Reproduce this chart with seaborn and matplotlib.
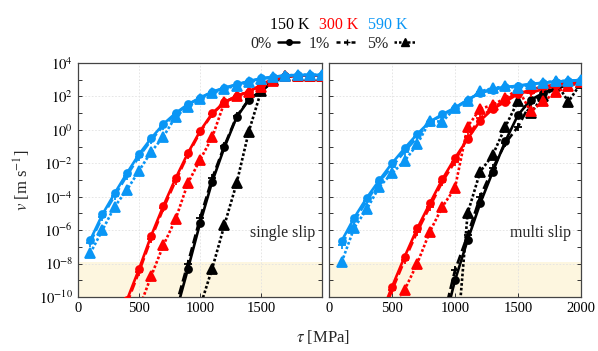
import numpy as np
import pandas as pd
import seaborn as sns
import matplotlib.pyplot as plt
from matplotlib.lines import Line2D
from matplotlib.ticker import NullFormatter

# log10 of slip velocity v [m/s]
tau_all = [100, 200, 300, 400, 500, 600, 700, 800, 900, 1000,
           1100, 1200, 1300, 1400, 1500, 1600, 1700, 1800, 1900, 2000]

# --- single slip ---
single_590_0 = [-6.6, -5.06, -3.8, -2.6, -1.46, -0.5, 0.35, 1.0, 1.53, 1.92,
                2.28, 2.52, 2.72, 2.92, 3.08, 3.18, 3.25, 3.28, 3.28, 3.28]
single_590_1 = [-6.75, -5.2, -3.95, -2.75, -1.6, -0.62, 0.25, 0.95, 1.5, 1.9,
                2.26, 2.5, 2.7, 2.9, 3.06, 3.17, 3.25, 3.28, 3.28, 3.28]
single_590_5 = [-7.39, -6.0, -4.6, -3.6, -2.45, -1.31, -0.41, 0.79, 1.38, 1.85,
                2.2, 2.45, 2.65, 2.85, 3.02, 3.15, 3.25, 3.3, 3.3, 3.3]

tau_red = tau_all[3:]
single_300_0 = [-10.2, -8.33, -6.33, -4.54, -2.9, -1.4, -0.08, 0.99, 1.65, 2.04,
                2.28, 2.7, 3.05, 3.2, 3.25, 3.25, 3.25]
single_300_1 = [-10.4, -8.5, -6.5, -4.7, -3.05, -1.5, -0.15, 0.95, 1.63, 2.03,
                2.28, 2.68, 3.03, 3.2, 3.25, 3.25, 3.25]
single_300_5 = [-12.5, -10.7, -8.75, -6.9, -5.35, -3.2, -1.8, -0.45, 1.65, 2.02,
                2.28, 2.55, 2.95, 3.2, 3.25, 3.25, 3.25]

tau_black = tau_all[7:]
single_150_0 = [-11.0, -8.35, -5.6, -3.1, -1.05, 0.75, 1.8, 2.3, 2.9, 3.2, 3.25, 3.25, 3.25]
single_150_1 = [-10.6, -8.0, -5.3, -2.9, -0.95, 0.8, 1.82, 2.32, 2.9, 3.2, 3.25, 3.25, 3.25]
single_150_5 = [-15.0, -13.0, -10.6, -8.3, -5.7, -3.2, -0.1, 2.3, 3.0, 3.2, 3.25, 3.25, 3.25]

# --- multi slip ---
multi_590_0 = [-6.65, -5.26, -4.06, -3.0, -2.0, -1.1, -0.25, 0.49, 0.93, 1.33,
               1.8, 2.2, 2.4, 2.55, 2.65, 2.75, 2.82, 2.88, 2.93, 2.98]
multi_590_1 = [-6.9, -5.45, -4.25, -3.1, -2.2, -1.3, -0.45, 0.5, 0.85, 1.32,
               1.78, 2.25, 2.45, 2.58, 2.6, 2.74, 2.81, 2.9, 2.92, 2.99]
multi_590_5 = [-7.93, -5.86, -4.74, -3.4, -2.6, -1.86, -0.87, 0.53, 0.49, 1.3,
               1.75, 2.3, 2.5, 2.6, 2.5, 2.72, 2.8, 2.95, 2.92, 3.0]

multi_300_0 = [-11.3, -9.39, -7.59, -5.9, -4.4, -2.95, -1.68, -0.55, 0.55, 1.25,
               1.68, 2.15, 2.4, 2.6, 2.7, 2.85, 2.95]
multi_300_1 = [-11.6, -9.6, -7.8, -6.1, -4.6, -3.1, -1.9, -0.4, 0.7, 1.35,
               1.75, 2.3, 2.2, 2.45, 2.6, 2.75, 2.9]
multi_300_5 = [-13.0, -11.3, -9.58, -8.0, -6.1, -4.6, -3.47, 0.2, 1.25, 1.5,
               1.9, 2.45, 1.1, 1.7, 2.25, 2.6, 2.85]

multi_150_0 = [-14.0, -12.0, -9.0, -6.6, -4.4, -2.5, -0.67, 0.89, 1.79, 2.2, 2.5, 2.75, 2.9]
multi_150_1 = [-13.5, -11.5, -8.4, -6.3, -4.0, -2.3, -0.8, 0.19, 1.6, 2.1, 2.45, 2.7, 2.85]
multi_150_5 = [-16.0, -15.0, -14.0, -5.0, -2.5, -1.5, 0.19, 1.73, 1.0, 2.0, 2.85, 1.68, 2.8]

colors = {'150 K': 'black', '300 K': '#ff0000', '590 K': '#0a96f5'}
styles = {
    '0%': dict(marker='o', dashes=(None, None), ms=5),
    '1%': dict(marker='+', dashes=(3.5, 1.5), ms=5.5),
    '5%': dict(marker='^', dashes=(1.0, 0.8), ms=6.5),
}
legend_dashes = {'0%': (None, None), '1%': (1.6, 1.4), '5%': (1.0, 0.8)}

panels = {
    'single slip': [
        ('150 K', tau_black, [single_150_0, single_150_1, single_150_5]),
        ('300 K', tau_red, [single_300_0, single_300_1, single_300_5]),
        ('590 K', tau_all, [single_590_0, single_590_1, single_590_5]),
    ],
    'multi slip': [
        ('150 K', tau_black, [multi_150_0, multi_150_1, multi_150_5]),
        ('300 K', tau_red, [multi_300_0, multi_300_1, multi_300_5]),
        ('590 K', tau_all, [multi_590_0, multi_590_1, multi_590_5]),
    ],
}

sns.set_style('ticks')
plt.rcParams['font.family'] = ['Liberation Serif', 'DejaVu Serif']
plt.rcParams['mathtext.fontset'] = 'stix'

fig = plt.figure(figsize=(5.98, 3.51), dpi=100)
ax_l = fig.add_axes([78 / 598, 1 - 297 / 351, 244 / 598, 234 / 351])
ax_r = fig.add_axes([329 / 598, 1 - 297 / 351, 252 / 598, 234 / 351])

for ax, (name, series) in zip([ax_l, ax_r], panels.items()):
    ax.axhspan(1e-10, 1.3e-8, color='#fdf6df', lw=0, zorder=0)
    for temp, tau, curves in series:
        for conc, logv in zip(['0%', '1%', '5%'], curves):
            st = styles[conc]
            df = pd.DataFrame({'tau': tau, 'v': 10.0 ** np.array(logv)})
            sns.lineplot(data=df, x='tau', y='v', ax=ax, color=colors[temp],
                         marker=st['marker'], markersize=st['ms'], dashes=st['dashes'],
                         lw=1.9, mew=1.3, mec=colors[temp], legend=False, zorder=3)
    ax.set_yscale('log')
    ax.set_ylim(1e-10, 1e4)
    ax.set_xlim(0, 2000)
    # labelled (gridded) ticks every two decades, plain ticks in between
    ax.set_yticks([10.0 ** k for k in range(-10, 5, 2)])
    ax.set_yticklabels(['$10^{%d}$' % k for k in range(-10, 5, 2)])
    ax.set_yticks([10.0 ** k for k in range(-9, 4, 2)], minor=True)
    ax.yaxis.set_minor_formatter(NullFormatter())
    ax.set_xticks([0, 500, 1000, 1500, 2000])
    ax.grid(True, which='major', color='#e2e2e2', ls=(0, (2, 2)), lw=0.6)
    ax.tick_params(which='both', direction='in', length=3, width=0.7, labelsize=10.5,
                   colors='#333333', labelcolor='black', top=False, right=True)
    for sp in ax.spines.values():
        sp.set_color('#444444')
        sp.set_linewidth(0.9)
    ax.set_xlabel('')
    ax.set_ylabel('')
    ax.text(1680, 10.0 ** -6.17, name, ha='center', va='center', fontsize=11.5)

ax_l.set_xticklabels(['0', '500', '1000', '1500', ''])
ax_r.set_yticklabels([])

fig.text(323 / 598, 1 - 337 / 351, r'$\tau$ [MPa]', ha='center', va='center', fontsize=12)
fig.text(22 / 598, 1 - 180 / 351, r'$v$ [m s$^{-1}$]', ha='center', va='center',
         rotation=90, fontsize=12)

# temperature header
for label, xc in [('150 K', 290), ('300 K', 339), ('590 K', 388)]:
    fig.text(xc / 598, 1 - 25 / 351, label, color=colors[label], ha='center',
             va='center', fontsize=11.5)

handles = [Line2D([], [], color='black', lw=1.8, marker=styles[c]['marker'],
                  ms=styles[c]['ms'] - 1, dashes=legend_dashes[c])
           for c in ['0%', '1%', '5%']]
fig.legend(handles, ['0%', '1%', '5%'], loc='center', bbox_to_anchor=(333 / 598, 1 - 44 / 351),
           ncol=3, frameon=False, markerfirst=False, handlelength=1.3, handletextpad=0.4,
           columnspacing=0.6, fontsize=11.5)

fig.savefig('out.png', dpi=100)
